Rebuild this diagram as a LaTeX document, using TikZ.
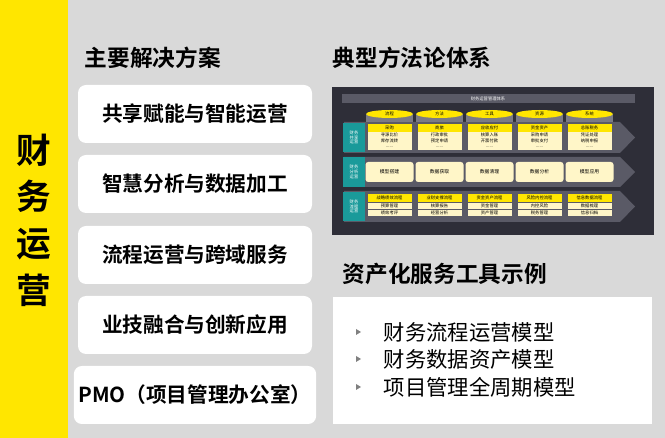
\documentclass[tikz,border=0pt]{standalone}
\usepackage{fontspec}
\setmainfont{Noto Sans CJK SC}
\newfontfamily\cjkb{Noto Sans CJK SC Bold}
\usetikzlibrary{shapes.geometric}
\definecolor{myyel}{HTML}{FFE600}
\definecolor{bgg}{HTML}{D9D9D9}
\definecolor{dk}{HTML}{2E2E38}
\definecolor{band}{HTML}{5A5A66}
\definecolor{tealA}{HTML}{1A9A9A}
\definecolor{lite}{HTML}{FFF6C8}
\tikzset{
 solbox/.style={fill=white,rounded corners=6pt,minimum width=175.5pt,minimum height=43.5pt,font=\cjkb\fontsize{15.5}{17}\selectfont},
 ttl/.style={anchor=west,font=\cjkb\fontsize{17}{19}\selectfont},
 tiny/.style={font=\fontsize{3.2}{3.5}\selectfont,inner sep=0pt},
 hdr/.style={fill=myyel,tiny,minimum width=33pt,minimum height=5.5pt},
 itm/.style={fill=lite,tiny,minimum width=33pt,minimum height=4.5pt},
 rowlab/.style={fill=tealA,text=white,tiny,align=center,minimum width=16pt,minimum height=22pt},
 bul/.style={anchor=west,font=\fontsize{16}{18}\selectfont}
}
\begin{document}
\begin{tikzpicture}[x=0.75pt,y=-0.75pt]
\useasboundingbox (0,0) rectangle (665,438);
\fill[bgg] (0,0) rectangle (665,438);
\fill[myyel] (0,0) rectangle (68,438);
\node[font=\cjkb\fontsize{26}{35}\selectfont,align=center] (side) at (34,220) {财\\务\\运\\营};
\node[ttl] (t1) at (80,58) {主要解决方案};
\node[solbox] (s1) at (195,114) {共享赋能与智能运营};
\node[solbox] (s2) at (195,184) {智慧分析与数据加工};
\node[solbox] (s3) at (195,255) {流程运营与跨域服务};
\node[solbox] (s4) at (195,325) {业技融合与创新应用};
\node[solbox] (s5) at (195,395) {PMO（项目管理办公室）};
\node[ttl] (t2) at (328,58) {典型方法论体系};
\node[ttl] (t3) at (338,274) {资产化服务工具示例};
% methodology figure
\fill[dk] (332,87) rectangle (654,235);
\fill[band] (342,94) rectangle (635,103);
\node[tiny,text=white] (ft) at (488,98.5) {财务运营管理体系};
\foreach \y/\h in {122/31,157/30,191/31}{
  \fill[band] (344,\y) -- (620,\y) -- (635,\y+\h/2) -- (620,\y+\h) -- (344,\y+\h) -- cycle;
}
\foreach \c [count=\i] in {流程,方法,工具,资源,系统}{
  \pgfmathsetmacro\cx{389.5+50*(\i-1)}
  \fill[band!80] (\cx-23.5,114) rectangle (\cx+23.5,122);
  \fill[myyel] (\cx,114) ellipse (23.5 and 4);
  \node[tiny] at (\cx,114) {\c};
}
\node[rowlab] (r1) at (354,137.5) {财务\\共享\\运营};
\node[rowlab] (r2) at (354,172) {财务\\分析\\运营};
\node[rowlab] (r3) at (354,206.5) {财务\\流程\\运营};
\foreach \h/\a/\b [count=\i] in {采购/寻源比价/库存流转,商旅/行政审批/预定申请,应收应付/核算入账/开票付款,资金资产/采购申请/审批支付,总账税务/凭证处理/纳税申报}{
  \pgfmathsetmacro\cx{389.5+50*(\i-1)}
  \node[hdr] at (\cx,128) {\h};
  \node[itm] at (\cx,135) {\a};
  \node[itm] at (\cx,141) {\b};
  \node[itm] at (\cx,147) {......};
}
\foreach \h [count=\i] in {模型搭建,数据获取,数据清理,数据分析,模型应用}{
  \pgfmathsetmacro\cx{389.5+50*(\i-1)}
  \node[fill=lite,rounded corners=2pt,minimum width=36pt,minimum height=15pt,inner sep=0pt,font=\fontsize{3.6}{4}\selectfont] at (\cx,172) {\h};
}
\foreach \h/\a/\b [count=\i] in {战略绩效流程/预算管理/绩效考评,业财支撑流程/核算报告/经营分析,资金资产流程/资金管理/资产管理,风险内控流程/内控风险/税务管理,信息数据流程/数据梳理/信息归档}{
  \pgfmathsetmacro\cx{389.5+50*(\i-1)}
  \node[hdr] at (\cx,198) {\h};
  \node[itm] at (\cx,206) {\a};
  \node[itm] at (\cx,213) {\b};
}
% tools box
\fill[white] (333,297) rectangle (652,424);
\foreach \yy/\t [count=\i] in {332/财务流程运营模型,359/财务数据资产模型,387/项目管理全周期模型}{
  \fill[gray] (356,\yy-3) -- (361,\yy) -- (356,\yy+3) -- cycle;
  \node[bul] (b\i) at (379,\yy) {\t};
}
\end{tikzpicture}
\end{document}
